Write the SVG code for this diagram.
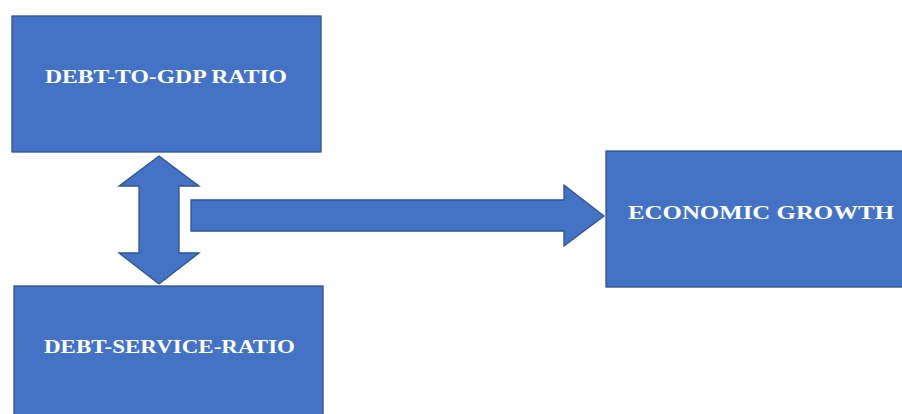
<svg xmlns="http://www.w3.org/2000/svg" width="902" height="414" viewBox="0 0 902 414">
<style>
.box{fill:#4472C4;stroke:#2F528F;stroke-width:1.3}
.lbl{fill:#FFFFFF;font-family:"Liberation Serif","Times New Roman",serif;font-weight:bold;font-size:18.5px}
.arr{fill:#4472C4;stroke:#2F528F;stroke-width:1.3;stroke-linejoin:miter}
</style>
<rect width="902" height="414" fill="#FFFFFF"/>
<g id="debt-to-gdp">
<rect class="box" x="12" y="16" width="309" height="136"/>
<text class="lbl" x="45" y="83" textLength="242" lengthAdjust="spacingAndGlyphs">DEBT-TO-GDP RATIO</text>
</g>
<g id="debt-service">
<rect class="box" x="14" y="286" width="309" height="140"/>
<text class="lbl" x="44" y="353" textLength="251" lengthAdjust="spacingAndGlyphs">DEBT-SERVICE-RATIO</text>
</g>
<g id="economic-growth">
<rect class="box" x="606" y="151" width="300" height="136"/>
<text class="lbl" x="628" y="219" textLength="266" lengthAdjust="spacingAndGlyphs">ECONOMIC GROWTH</text>
</g>
<g id="connectors">
<polygon class="arr" points="159,156 199,186 179,186 179,253 199,253 159,284 119,253 139,253 139,186 119,186"/>
<polygon class="arr" points="191,200 564,200 564,185 604,216 564,246 564,231 191,231"/>
</g>
</svg>
